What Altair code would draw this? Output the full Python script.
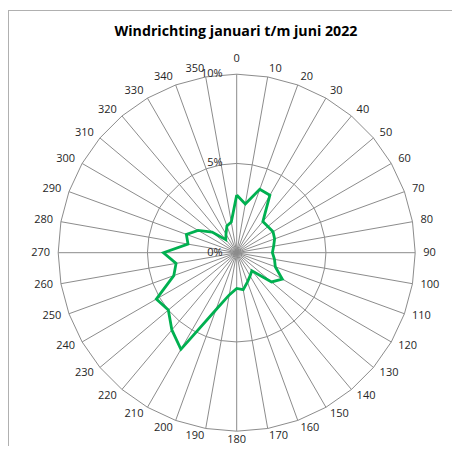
import altair as alt
import pandas as pd

# ---- data ----
directions = [0, 10, 20, 30, 40, 50, 60, 70, 80, 90, 100, 110, 120, 130, 140, 150, 160, 170,
              180, 190, 200, 210, 220, 230, 240, 250, 260, 270, 280, 290, 300, 310, 320, 330, 340, 350]
share_pct = [3.23, 2.77, 3.78, 3.72, 2.28, 2.28, 2.35, 2.26, 2.1, 2.0, 2.15, 2.3, 2.95, 2.55, 1.32, 1.5, 1.75, 2.1,
             2.0, 2.4, 3.4, 6.25, 5.65, 5.0, 5.2, 3.75, 3.45, 4.1, 2.77, 3.0, 2.5, 1.8, 0.95, 1.2, 1.6, 1.75]
grid_levels = [0, 5, 10]
grid_labels = ["0%", "5%", "10%"]
title_text = "Windrichting januari t/m juni 2022"

R_MAX = 10
LABEL_R = 10.45

# ---- tables built from the arrays ----
series = pd.DataFrame({"dir": directions + [directions[0]],
                       "r": share_pct + [share_pct[0]],
                       "ord": list(range(len(directions) + 1))})
rings = pd.DataFrame([{"dir": d, "r": lv, "ring": lv, "ord": i}
                      for lv in grid_levels if lv > 0
                      for i, d in enumerate(directions + [directions[0]])])
spokes = pd.DataFrame({"dir": directions})
dlabels = pd.DataFrame({"dir": directions, "label": [str(d) for d in directions]})
plabels = pd.DataFrame({"level": grid_levels, "label": grid_labels})

W, H = 444, 438
PX = 17.85
cx, cy = 236.7 - 8, 252.7 - 8
xdom = [-cx / PX, (W - cx) / PX]
ydom = [-(H - cy) / PX, cy / PX]

xs = alt.Scale(domain=xdom, nice=False, zero=False)
ys = alt.Scale(domain=ydom, nice=False, zero=False)
X = lambda f: alt.X(f, type="quantitative", scale=xs, axis=None)
Y = lambda f: alt.Y(f, type="quantitative", scale=ys, axis=None)

GRID = "#8c8c8c"
TXT = "#262626"
FONT = "Open Sans"

polar = dict(px="datum.r*sin(datum.dir*PI/180)", py="datum.r*cos(datum.dir*PI/180)")

ring_layer = alt.Chart(rings).transform_calculate(**polar).mark_line(
    color=GRID, strokeWidth=1).encode(x=X("px"), y=Y("py"), detail="ring:N", order="ord:Q")

spoke_layer = alt.Chart(spokes).transform_calculate(
    x0="0", y0="0",
    x1=f"{R_MAX}*sin(datum.dir*PI/180)", y1=f"{R_MAX}*cos(datum.dir*PI/180)"
).mark_rule(color=GRID, strokeWidth=1).encode(
    x=X("x0"), y=Y("y0"), x2="x1:Q", y2="y1:Q")

line_layer = alt.Chart(series).transform_calculate(**polar).mark_line(
    color="#00b050", strokeWidth=2.8, strokeJoin="miter").encode(
    x=X("px"), y=Y("py"), order="ord:Q")

lab_base = alt.Chart(dlabels).transform_calculate(
    lx=f"{LABEL_R}*sin(datum.dir*PI/180)", ly=f"{LABEL_R}*cos(datum.dir*PI/180)")
lab_right = lab_base.transform_filter("datum.dir > 0 && datum.dir < 180").mark_text(
    align="left", baseline="middle", font=FONT, fontSize=11, color=TXT).encode(
    x=X("lx"), y=Y("ly"), text="label:N")
lab_left = lab_base.transform_filter("datum.dir > 180").mark_text(
    align="right", baseline="middle", font=FONT, fontSize=11, color=TXT).encode(
    x=X("lx"), y=Y("ly"), text="label:N")
lab_top = lab_base.transform_filter("datum.dir == 0").mark_text(
    align="center", baseline="bottom", dy=-2, font=FONT, fontSize=11, color=TXT).encode(
    x=X("lx"), y=Y("ly"), text="label:N")
lab_bottom = lab_base.transform_filter("datum.dir == 180").mark_text(
    align="center", baseline="middle", dy=1, font=FONT, fontSize=11, color=TXT).encode(
    x=X("lx"), y=Y("ly"), text="label:N")

pct_layer = alt.Chart(plabels).transform_calculate(zx="0").mark_text(
    align="right", baseline="middle", dx=-14, font=FONT, fontSize=11, color=TXT).encode(
    x=X("zx"), y=Y("level"), text="label:N")

title_layer = alt.Chart(pd.DataFrame({"t": [title_text]})).mark_text(
    font=FONT, fontSize=14.2, fontWeight="bold", color="#000000",
    align="center", baseline="middle").encode(
    x=alt.value(236 - 8), y=alt.value(32 - 8), text="t:N")

frame_top = alt.Chart(pd.DataFrame({"a": [0]})).mark_rule(color="#b0b0b0", strokeWidth=1).encode(
    x=alt.value(0), x2=alt.value(W), y=alt.value(2.5))
frame_left = alt.Chart(pd.DataFrame({"a": [0]})).mark_rule(color="#b0b0b0", strokeWidth=1).encode(
    x=alt.value(0.5), y=alt.value(2), y2=alt.value(H))

chart = alt.layer(
    frame_top, frame_left, ring_layer, spoke_layer, line_layer,
    lab_right, lab_left, lab_top, lab_bottom, pct_layer, title_layer
).properties(
    width=W, height=H, padding=0, autosize=alt.AutoSizeParams(type="none")
).configure_view(stroke="transparent")

chart.save("out.html", embed_options={"renderer": "svg", "actions": False})
